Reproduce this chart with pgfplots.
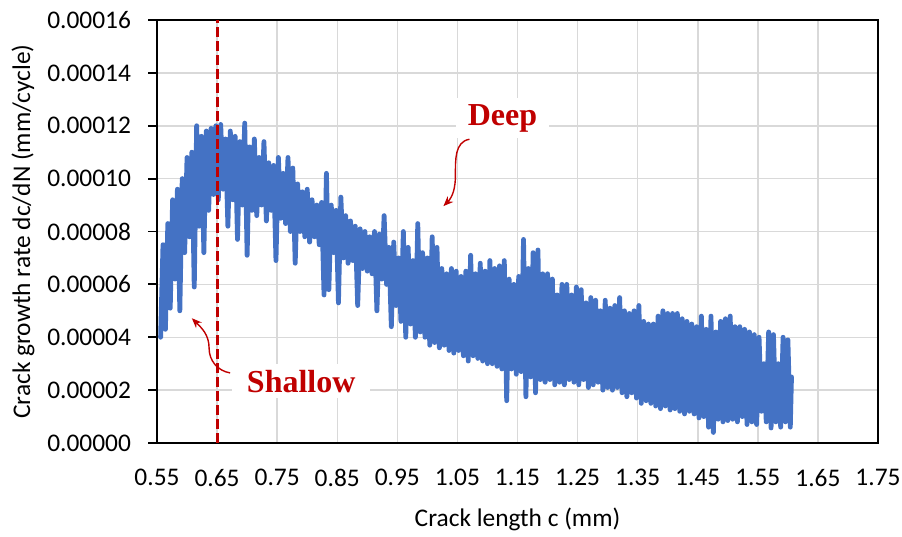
\documentclass[border=0pt]{standalone}
\usepackage{fontspec}
\setmainfont{Carlito}
\newfontfamily\serif{Liberation Serif}
\usepackage{pgfplots}
\pgfplotsset{compat=1.18}
\usetikzlibrary{arrows.meta}
\definecolor{xlblue}{HTML}{4472C4}
\definecolor{xlred}{HTML}{C00000}
\definecolor{gridgray}{HTML}{D9D9D9}

\begin{document}
\begin{tikzpicture}
\begin{axis}[
    name=ax,
    width=360.5pt, height=211.5pt, scale only axis,
    xmin=0.55, xmax=1.75, ymin=0, ymax=0.00016,
    xtick={0.55,0.65,0.75,0.85,0.95,1.05,1.15,1.25,1.35,1.45,1.55,1.65,1.75},
    ytick={0,0.00002,0.00004,0.00006,0.00008,0.0001,0.00012,0.00014,0.00016},
    scaled x ticks=false, scaled y ticks=false,
    tick label style={font=\fontsize{12.7}{15}\selectfont},
    xticklabel style={yshift=-5pt, /pgf/number format/.cd, fixed, fixed zerofill, precision=2, assume math mode=true},
    yticklabel style={xshift=-5pt, /pgf/number format/.cd, fixed, fixed zerofill, precision=5, assume math mode=true},
    grid=major,
    major grid style={gridgray, line width=0.75pt},
    axis line style={black, line width=0.9pt},
    xtick style={draw=none},
    ytick pos=left, tick align=outside,
    ytick style={black, line width=0.9pt},
    major tick length=4.5pt,
    xlabel={Crack length c (mm)},
    ylabel={Crack growth rate dc/dN (mm/cycle)},
    every axis x label/.style={at={(axis description cs:0.5,0)}, yshift=-38pt, anchor=center, font=\fontsize{12.7}{15}\selectfont},
    every axis y label/.style={at={(axis description cs:0,0.5)}, xshift=-67pt, rotate=90, anchor=center, font=\fontsize{12.7}{15}\selectfont},
]
\addplot[xlblue, line width=2.4pt, line join=round, line cap=round] coordinates {
(0.556,4.0e-5) (0.560,7.5e-5) (0.564,4.3e-5) (0.568,8.3e-5) (0.572,5.1e-5) (0.576,9.2e-5)
(0.580,6.2e-5) (0.584,9.6e-5) (0.588,5.0e-5) (0.592,10.0e-5) (0.596,7.2e-5) (0.600,10.8e-5)
(0.604,7.8e-5) (0.608,11.0e-5) (0.612,5.9e-5) (0.616,12.0e-5) (0.620,8.2e-5) (0.624,11.6e-5)
(0.628,7.2e-5) (0.632,11.8e-5) (0.636,8.8e-5) (0.640,11.9e-5) (0.644,9.4e-5) (0.648,12.0e-5)
(0.652,9.2e-5) (0.656,12.05e-5) (0.660,9.6e-5) (0.664,11.5e-5) (0.668,8.2e-5) (0.672,11.8e-5)
(0.676,9.2e-5) (0.680,11.6e-5) (0.684,7.7e-5) (0.688,11.4e-5) (0.692,9.0e-5) (0.696,12.1e-5)
(0.700,7.1e-5) (0.704,11.2e-5) (0.708,8.8e-5) (0.712,11.5e-5) (0.716,8.6e-5) (0.720,10.8e-5)
(0.724,9.0e-5) (0.728,11.4e-5) (0.732,8.4e-5) (0.736,10.6e-5) (0.740,8.8e-5) (0.744,10.5e-5)
(0.748,6.9e-5) (0.752,10.8e-5) (0.756,8.5e-5) (0.760,10.2e-5) (0.764,8.3e-5) (0.768,10.8e-5)
(0.772,8.0e-5) (0.776,10.4e-5) (0.780,6.8e-5) (0.784,9.8e-5) (0.788,8.0e-5) (0.792,9.5e-5)
(0.796,7.8e-5) (0.800,9.6e-5) (0.804,7.6e-5) (0.808,9.2e-5) (0.812,7.8e-5) (0.816,9.0e-5)
(0.820,7.5e-5) (0.824,9.1e-5) (0.828,5.6e-5) (0.832,10.2e-5) (0.836,5.8e-5) (0.840,9.0e-5)
(0.844,7.2e-5) (0.848,8.8e-5) (0.852,5.3e-5) (0.856,9.3e-5) (0.860,7.0e-5) (0.864,8.6e-5)
(0.868,6.8e-5) (0.872,8.4e-5) (0.876,6.9e-5) (0.880,8.2e-5) (0.884,5.2e-5) (0.888,8.1e-5)
(0.892,6.6e-5) (0.896,8.0e-5) (0.900,6.5e-5) (0.904,7.8e-5) (0.908,6.4e-5) (0.912,8.0e-5)
(0.916,5.0e-5) (0.920,7.9e-5) (0.924,6.2e-5) (0.928,8.6e-5) (0.932,6.0e-5) (0.936,7.4e-5)
(0.940,4.4e-5) (0.944,7.6e-5) (0.948,5.2e-5) (0.952,7.0e-5) (0.956,4.6e-5) (0.960,8.0e-5)
(0.964,4.0e-5) (0.968,7.4e-5) (0.972,4.5e-5) (0.976,6.9e-5) (0.980,4.0e-5) (0.984,8.3e-5)
(0.988,4.2e-5) (0.992,7.2e-5) (0.996,4.0e-5) (1.000,7.0e-5) (1.004,3.7e-5) (1.008,7.8e-5)
(1.012,3.8e-5) (1.016,7.4e-5) (1.020,3.6e-5) (1.024,6.6e-5) (1.028,3.7e-5) (1.032,6.4e-5)
(1.036,3.5e-5) (1.040,6.6e-5) (1.044,3.4e-5) (1.048,6.5e-5) (1.052,3.5e-5) (1.056,6.3e-5)
(1.060,3.3e-5) (1.064,6.5e-5) (1.068,3.1e-5) (1.072,7.1e-5) (1.076,3.3e-5) (1.080,6.4e-5)
(1.084,3.2e-5) (1.088,6.8e-5) (1.092,3.1e-5) (1.096,6.5e-5) (1.100,3.0e-5) (1.104,6.9e-5)
(1.108,3.0e-5) (1.112,6.6e-5) (1.116,2.9e-5) (1.120,6.7e-5) (1.124,2.8e-5) (1.128,6.9e-5)
(1.132,1.6e-5) (1.136,6.2e-5) (1.140,2.8e-5) (1.144,6.0e-5) (1.148,2.6e-5) (1.152,6.3e-5)
(1.156,2.7e-5) (1.160,7.7e-5) (1.164,1.75e-5) (1.168,6.6e-5) (1.172,2.5e-5) (1.176,7.2e-5)
(1.180,1.9e-5) (1.184,7.3e-5) (1.188,2.4e-5) (1.192,6.4e-5) (1.196,2.3e-5) (1.200,6.4e-5)
(1.204,2.4e-5) (1.208,6.2e-5) (1.212,2.2e-5) (1.216,5.6e-5) (1.220,2.3e-5) (1.224,6.0e-5)
(1.228,2.2e-5) (1.232,6.0e-5) (1.236,2.4e-5) (1.240,5.6e-5) (1.244,2.3e-5) (1.248,5.9e-5)
(1.252,2.2e-5) (1.256,5.8e-5) (1.260,2.4e-5) (1.264,5.3e-5) (1.268,2.1e-5) (1.272,5.5e-5)
(1.276,2.2e-5) (1.280,5.4e-5) (1.284,2.3e-5) (1.288,5.0e-5) (1.292,2.0e-5) (1.296,5.4e-5)
(1.300,2.1e-5) (1.304,5.1e-5) (1.308,2.0e-5) (1.312,5.2e-5) (1.316,2.1e-5) (1.320,5.5e-5)
(1.324,1.9e-5) (1.328,5.0e-5) (1.332,1.75e-5) (1.336,4.9e-5) (1.340,1.9e-5) (1.344,5.0e-5)
(1.348,1.7e-5) (1.352,5.2e-5) (1.356,1.5e-5) (1.360,4.6e-5) (1.364,1.6e-5) (1.368,4.5e-5)
(1.372,1.5e-5) (1.376,4.5e-5) (1.380,1.4e-5) (1.384,4.8e-5) (1.388,1.3e-5) (1.392,5.0e-5)
(1.396,1.4e-5) (1.400,4.9e-5) (1.404,1.25e-5) (1.408,4.9e-5) (1.412,1.3e-5) (1.416,4.9e-5)
(1.420,1.2e-5) (1.424,4.7e-5) (1.428,1.1e-5) (1.432,4.6e-5) (1.436,1.2e-5) (1.440,4.5e-5)
(1.444,1.1e-5) (1.448,4.4e-5) (1.452,0.95e-5) (1.456,4.8e-5) (1.460,1.0e-5) (1.464,4.3e-5)
(1.468,0.6e-5) (1.472,4.8e-5) (1.476,0.4e-5) (1.480,4.2e-5) (1.484,0.9e-5) (1.488,4.6e-5)
(1.492,0.8e-5) (1.496,4.7e-5) (1.500,0.85e-5) (1.504,4.8e-5) (1.508,0.9e-5) (1.512,4.4e-5)
(1.516,0.8e-5) (1.520,4.4e-5) (1.524,1.0e-5) (1.528,4.3e-5) (1.532,0.7e-5) (1.536,4.2e-5)
(1.540,0.8e-5) (1.544,4.1e-5) (1.548,0.7e-5) (1.552,4.0e-5) (1.556,1.2e-5) (1.560,3.0e-5)
(1.564,0.8e-5) (1.568,4.2e-5) (1.572,0.57e-5) (1.576,4.1e-5) (1.580,0.8e-5) (1.584,3.0e-5)
(1.588,0.6e-5) (1.592,4.0e-5) (1.596,0.8e-5) (1.600,3.9e-5) (1.604,0.6e-5) (1.606,2.5e-5)
};
\draw[xlred, line width=1.5pt, dash pattern=on 5pt off 2pt] (axis cs:0.65,0) -- (axis cs:0.65,0.00016);
\node[fill=white, text=xlred, font=\serif\bfseries\fontsize{16}{19}\selectfont, inner xsep=6pt, inner ysep=3pt]
    at (axis cs:1.125,0.0001229) {Deep};
\node[fill=white, text=xlred, font=\serif\bfseries\fontsize{16}{19}\selectfont, inner xsep=7.5pt, inner ysep=3pt]
    at (axis cs:0.79,0.0000234) {Shallow};
\draw[xlred, line width=0.7pt, -{Stealth[length=5pt, width=4pt]}]
    (axis cs:1.07,0.0001149) to[out=190, in=90] (axis cs:1.0467,0.0001013) to[out=270, in=45] (axis cs:1.0267,0.0000896);
\draw[xlred, line width=0.7pt, -{Stealth[length=5pt, width=4pt]}]
    (axis cs:0.6717,0.0000265) to[out=170, in=270] (axis cs:0.6367,0.0000359) to[out=90, in=-45] (axis cs:0.608,0.0000472);
\end{axis}
\pgfresetboundingbox
\path[use as bounding box] ([xshift=-78.5pt, yshift=-46.5pt]ax.south west) rectangle ([xshift=12pt, yshift=10pt]ax.north east);
\end{tikzpicture}
\end{document}
